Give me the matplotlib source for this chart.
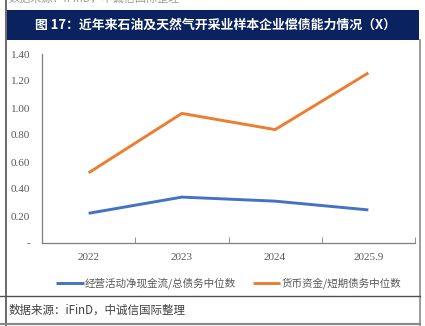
import matplotlib.pyplot as plt
from matplotlib.lines import Line2D
from matplotlib.patches import Rectangle
import numpy as np

plt.rcParams['font.family'] = ['Noto Sans CJK SC', 'DejaVu Sans']

# data
years = ['2022', '2023', '2024', '2025.9']
ocf_debt = [0.22, 0.34, 0.31, 0.245]       # 经营活动净现金流/总债务中位数
cash_short = [0.52, 0.96, 0.84, 1.26]      # 货币资金/短期债务中位数
yticks = [0, 0.2, 0.4, 0.6, 0.8, 1.0, 1.2, 1.4]
ylabels = ['-', '0.20', '0.40', '0.60', '0.80', '1.00', '1.20', '1.40']

title = '图 17：近年来石油及天然气开采业样本企业偿债能力情况（X）'
source = '数据来源：iFinD，中诚信国际整理'

W, H = 425, 326
fig = plt.figure(figsize=(W / 100, H / 100), dpi=100)

def fx(px):
    return px / W

def fy(py):
    return 1 - py / H

# page frame
navy = '#0b2261'
fig.add_artist(Rectangle((fx(7), fy(40)), fx(412), (40 - 10) / H, color=navy, lw=0))
fig.text(fx(216), fy(25), title, color='white', fontsize=9.3, fontweight='bold',
         ha='center', va='center')
# previous caption of the page, cut off by the top edge as in the source
fig.text(fx(9), fy(-2), source, color='#9a9a9a', fontsize=8, va='center')

fig.add_artist(Line2D([fx(6), fx(6)], [0, 1], color='#505050', lw=1.2))
fig.add_artist(Line2D([fx(419.5), fx(419.5)], [fy(40), 0], color='#8a8a8a', lw=1.2))
fig.add_artist(Line2D([0, fx(420)], [fy(296), fy(296)], color='#505050', lw=1.0))
fig.add_artist(Line2D([0, fx(420)], [fy(323.5), fy(323.5)], color='#8a8a8a', lw=1.6))
fig.text(fx(9), fy(310), source, color='#404040', fontsize=8.3, style='italic',
         va='center')

# chart
ax = fig.add_axes([fx(42), fy(243), fx(415 - 42), (243 - 54) / H])
x = np.arange(len(years))
ax.plot(x, ocf_debt, color='#4472c4', lw=2.1, label='经营活动净现金流/总债务中位数',
        solid_capstyle='butt')
ax.plot(x, cash_short, color='#ed7d31', lw=2.1, label='货币资金/短期债务中位数',
        solid_capstyle='butt')

ax.set_xlim(-0.5, len(years) - 0.5)
ax.set_ylim(0, 1.4)
ax.set_yticks(yticks)
ax.set_yticklabels(ylabels, family=['Liberation Serif'], fontsize=8, color='#595959')
ax.set_xticks(x)
ax.set_xticklabels(years, family=['Liberation Serif'], fontsize=8, color='#595959')
ax.set_xticks(np.arange(len(years)) + 0.5, minor=True)
ax.tick_params(axis='x', which='major', length=0, pad=7)
ax.tick_params(axis='x', which='minor', length=4, direction='in', color='#7f7f7f')
ax.tick_params(axis='y', length=0, pad=8.5)
for s in ['top', 'right']:
    ax.spines[s].set_visible(False)
for s in ['left', 'bottom']:
    ax.spines[s].set_color('#7f7f7f')
    ax.spines[s].set_linewidth(0.9)

leg = ax.legend(loc='center', bbox_to_anchor=(0.5, -0.215), ncol=2, frameon=False,
                fontsize=7.6, handlelength=2.6, handletextpad=0.1, columnspacing=1.6,
                labelcolor='#595959')

fig.savefig('out.png', dpi=100, facecolor='white')
